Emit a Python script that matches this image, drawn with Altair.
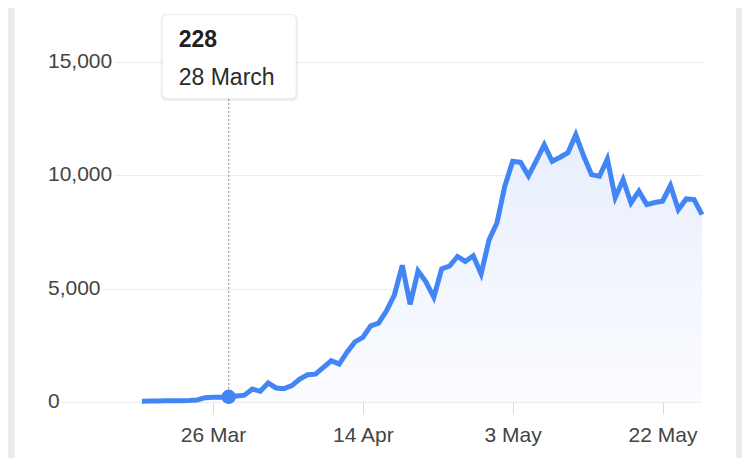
import altair as alt
import pandas as pd

# ---- data ----
first_day = "2020-03-17"
daily_values = [
    30, 40, 45, 50, 55, 60, 65, 90, 190, 205,
    215, 228, 265, 300, 570, 480, 840, 620, 590, 720,
    1010, 1200, 1230, 1530, 1820, 1670, 2200, 2650, 2850, 3360,
    3480, 4020, 4720, 6030, 4310, 5780, 5300, 4620, 5870, 6000,
    6420, 6200, 6450, 5650, 7150, 7900, 9520, 10620, 10570, 9980,
    10650, 11350, 10620, 10800, 11000, 11790, 10850, 10030, 9960, 10720,
    9020, 9810, 8780, 9300, 8710, 8800, 8860, 9550, 8490, 8960,
    8930, 8270,
]
y_ticks = [0, 5000, 10000, 15000]
x_ticks = ["2020-03-26T00:00:00", "2020-04-14T00:00:00",
           "2020-05-03T00:00:00", "2020-05-22T00:00:00"]
highlight_date = "2020-03-28T00:00:00"
highlight_value = 228

dates = pd.date_range(first_day, periods=len(daily_values), freq="D")
df = pd.DataFrame({"date": dates.strftime("%Y-%m-%dT%H:%M:%S"), "value": daily_values})
hl = pd.DataFrame({"date": [highlight_date], "value": [highlight_value]})
ylab = pd.DataFrame({"v": y_ticks})

BLUE = "#4285f4"
FONT = "Liberation Sans"

x_scale = alt.Scale(domain=["2020-03-05T02:10:00", "2020-05-27T00:00:00"])
y_scale = alt.Scale(domain=[0, 15000], nice=False)

x_enc = alt.X("date:T", scale=x_scale, axis=alt.Axis(
    values=x_ticks, format="%-d %b", title=None, domain=False, grid=False,
    ticks=True, tickColor="#dcdcdc", tickSize=12, labelPadding=10,
    labelFont=FONT, labelFontSize=21, labelColor="#444444", labelFlush=False))
y_enc = alt.Y("value:Q", scale=y_scale, axis=alt.Axis(
    values=y_ticks, labels=False, ticks=False, domain=False, grid=True,
    gridColor="#ececec", gridWidth=1, title=None))

base = alt.Chart(df)

area = base.mark_area(
    color=alt.Gradient(
        gradient="linear",
        stops=[alt.GradientStop(color="#fbfcff", offset=0),
               alt.GradientStop(color="#e7eefc", offset=1)],
        x1=1, x2=1, y1=1, y2=0),
).encode(x=x_enc, y=y_enc)

line = base.mark_line(color=BLUE, strokeWidth=5).encode(x="date:T", y="value:Q")

hbase = alt.Chart(hl)

# card edges (decoration)
left_edge = hbase.mark_rect(color="#ebebeb").encode(
    x=alt.value(-40), x2=alt.value(-33), y=alt.value(-54), y2=alt.value(396))
right_edge = hbase.mark_rect(color="#ebebeb").encode(
    x=alt.value(688), x2=alt.value(694), y=alt.value(-54), y2=alt.value(396))

rule = hbase.mark_rule(color="#8a8a8a", strokeWidth=1, strokeDash=[2, 2]).encode(
    x="date:T", y="value:Q", y2=alt.value(36))
point = hbase.mark_point(filled=True, size=210, color=BLUE, opacity=1).encode(
    x="date:T", y="value:Q")

shadow = hbase.mark_rect(color="#000000", opacity=0.07, cornerRadius=6,
                         xOffset=-68, x2Offset=69).encode(
    x="date:T", x2="date:T", y=alt.value(-48), y2=alt.value(39))
box = hbase.mark_rect(color="#ffffff", cornerRadius=5, xOffset=-66, x2Offset=67).encode(
    x="date:T", x2="date:T", y=alt.value(-47), y2=alt.value(36))
t_val = hbase.mark_text(align="left", baseline="alphabetic", dx=-50, font=FONT,
                        fontSize=23, fontWeight="bold", color="#202020").encode(
    x="date:T", y=alt.value(-15), text=alt.Text("value:Q", format=","))
t_date = hbase.mark_text(align="left", baseline="alphabetic", dx=-50, font=FONT,
                         fontSize=23, color="#2a2a2a").encode(
    x="date:T", y=alt.value(23), text=alt.Text("date:T", format="%-d %B"))

ybase = alt.Chart(ylab)
y_halo = ybase.mark_text(align="left", baseline="middle", font=FONT, fontSize=21,
                         color="#ffffff", stroke="#ffffff", strokeWidth=5).encode(
    x=alt.value(0), y=alt.Y("v:Q", scale=y_scale), text=alt.Text("v:Q", format=","))
y_text = ybase.mark_text(align="left", baseline="middle", font=FONT, fontSize=21,
                         color="#444444").encode(
    x=alt.value(0), y=alt.Y("v:Q", scale=y_scale), text=alt.Text("v:Q", format=","))

chart = alt.layer(left_edge, right_edge, area, line, rule, point, shadow, box,
                  t_val, t_date, y_halo, y_text).properties(
    width=654, height=340,
    autosize=alt.AutoSizeParams(type="none"),
    padding={"left": 40, "top": 54, "right": 40, "bottom": 56},
    background="#ffffff",
).configure_view(strokeWidth=0)

chart.save("out.html", embed_options={"renderer": "svg", "actions": False})
